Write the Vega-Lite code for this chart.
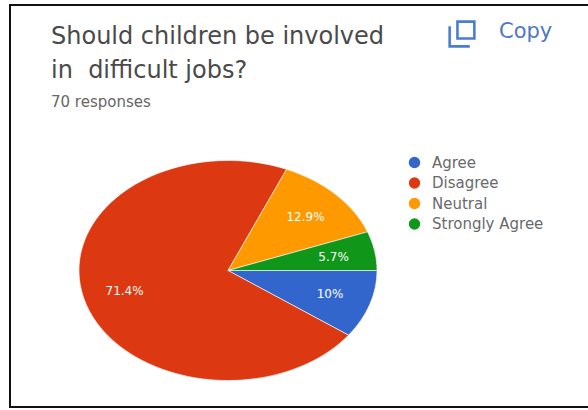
{
  "$schema": "https://vega.github.io/schema/vega-lite/v6.json",
  "width": 588,
  "height": 410,
  "padding": 0,
  "autosize": {"type": "none"},
  "background": "#ffffff",
  "view": {"stroke": null},
  "title": {
    "text": ["Should children be involved", "in\u00a0 difficult jobs?"],
    "subtitle": "70 responses",
    "anchor": "start",
    "frame": "group",
    "orient": "top",
    "baseline": "alphabetic",
    "dx": 51,
    "dy": 133,
    "font": "DejaVu Sans",
    "fontSize": 24,
    "fontWeight": "normal",
    "lineHeight": 34,
    "color": "#4a4a4a",
    "subtitleFont": "DejaVu Sans",
    "subtitleFontSize": 15,
    "subtitleColor": "#666666",
    "subtitlePadding": 5
  },
  "layer": [
    {
      "data": {"values": [{"frame": "outline"}]},
      "mark": {"type": "rect", "fill": null, "stroke": "#111111", "strokeWidth": 2},
      "encoding": {
        "x": {"datum": 10, "type": "quantitative", "scale": {"domain": [0, 588], "nice": false}, "axis": null},
        "x2": {"datum": 592},
        "y": {"datum": 5, "type": "quantitative", "scale": {"domain": [410, 0], "nice": false, "zero": false}, "axis": null},
        "y2": {"datum": 407}
      }
    },
    {
      "data": {
        "values": [
          {"answer": "Agree", "responses": 7},
          {"answer": "Disagree", "responses": 50},
          {"answer": "Neutral", "responses": 9},
          {"answer": "Strongly Agree", "responses": 4}
        ]
      },
      "transform": [
        {"joinaggregate": [{"op": "sum", "field": "responses", "as": "total"}]},
        {"stack": "responses", "groupby": [], "sort": [{"field": "answer", "order": "ascending"}], "as": ["s0", "s1"]},
        {"calculate": "2 * PI * datum.s0 / datum.total", "as": "a0"},
        {"calculate": "2 * PI * datum.s1 / datum.total", "as": "a1"},
        {"calculate": "'M0,0L' + round(cos(datum.a0) * 10000) / 10000 + ',' + round(0.7383 * sin(datum.a0) * 10000) / 10000 + 'A1,0.7383 0 ' + (datum.a1 - datum.a0 > PI ? 1 : 0) + ' 1 ' + round(cos(datum.a1) * 10000) / 10000 + ',' + round(0.7383 * sin(datum.a1) * 10000) / 10000 + 'Z'", "as": "slice"}
      ],
      "mark": {"type": "point", "filled": true, "opacity": 1, "stroke": "#ffffff", "strokeWidth": 0.6},
      "encoding": {
        "x": {"datum": 228, "type": "quantitative"},
        "y": {"datum": 270.5, "type": "quantitative"},
        "shape": {"field": "slice", "type": "nominal", "scale": null, "legend": null},
        "size": {"value": 88804},
        "color": {
          "field": "answer",
          "type": "nominal",
          "scale": {
            "domain": ["Agree", "Disagree", "Neutral", "Strongly Agree"],
            "range": ["#3366cc", "#dc3912", "#ff9900", "#109618"]
          },
          "legend": {
            "title": null,
            "orient": "none",
            "legendX": 407,
            "legendY": 155,
            "symbolType": "circle",
            "symbolSize": 130,
            "symbolStrokeWidth": 0,
            "labelFont": "DejaVu Sans",
            "labelFontSize": 15,
            "labelColor": "#6a6a6a",
            "rowPadding": 4.5,
            "labelOffset": 10
          }
        }
      }
    },
    {
      "data": {
        "values": [
          {"answer": "Agree", "responses": 7},
          {"answer": "Disagree", "responses": 50},
          {"answer": "Neutral", "responses": 9},
          {"answer": "Strongly Agree", "responses": 4}
        ]
      },
      "transform": [
        {"joinaggregate": [{"op": "sum", "field": "responses", "as": "total"}]},
        {"stack": "responses", "groupby": [], "sort": [{"field": "answer", "order": "ascending"}], "as": ["s0", "s1"]},
        {"calculate": "PI * (datum.s0 + datum.s1) / datum.total", "as": "mid"},
        {"calculate": "format(datum.responses / datum.total, '.1~%')", "as": "share"},
        {"calculate": "228 + 149 * 0.72 * cos(datum.mid)", "as": "lx"},
        {"calculate": "270.5 + 110 * 0.7 * sin(datum.mid)", "as": "ly"}
      ],
      "mark": {"type": "text", "font": "DejaVu Sans", "fontSize": 12, "color": "#ffffff", "align": "center", "baseline": "middle"},
      "encoding": {
        "x": {"field": "lx", "type": "quantitative"},
        "y": {"field": "ly", "type": "quantitative"},
        "text": {"field": "share", "type": "nominal"}
      }
    },
    {
      "data": {"values": [{"label": "Copy"}]},
      "mark": {"type": "text", "font": "DejaVu Sans", "fontSize": 21, "color": "#4f77c4", "align": "left", "baseline": "middle"},
      "encoding": {
        "x": {"datum": 499, "type": "quantitative"},
        "y": {"datum": 32, "type": "quantitative"},
        "text": {"field": "label", "type": "nominal"}
      }
    },
    {
      "data": {"values": [{"icon": "copy"}]},
      "mark": {
        "type": "point",
        "filled": false,
        "opacity": 1,
        "color": "#4a7fd0",
        "strokeWidth": 2.6,
        "size": 676,
        "shape": "M-0.35,-0.95H0.95V0.35H-0.35ZM-0.95,-0.6V0.95H0.6"
      },
      "encoding": {
        "x": {"datum": 462, "type": "quantitative"},
        "y": {"datum": 34, "type": "quantitative"}
      }
    }
  ]
}
